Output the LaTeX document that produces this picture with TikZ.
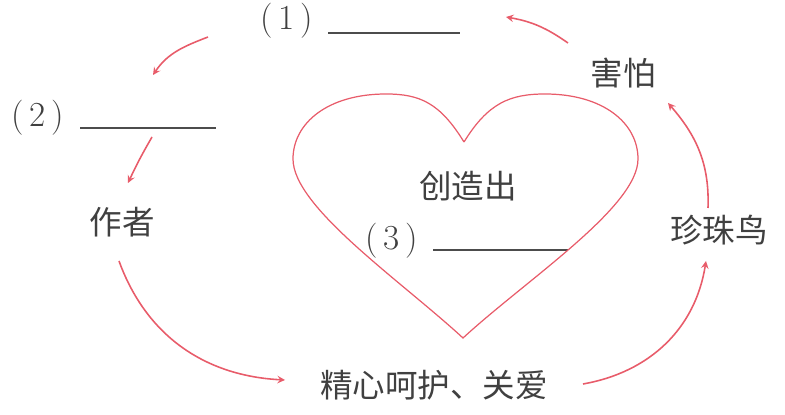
\documentclass[tikz,border=0pt]{standalone}
\usepackage{fontspec}
\usepackage{tikz}
\newfontfamily\cjk{Noto Sans CJK SC}[Scale=1.0]
\definecolor{heartred}{RGB}{232,92,106}
\tikzstyle{word} = [inner sep=0pt, font=\cjk\fontsize{18.5}{22}\selectfont, text=black!75]
\tikzstyle{num} = [inner sep=0pt, font=\fontsize{20}{24}\selectfont, text=black!75]
\tikzstyle{blank} = [black!70, line width=0.7pt]
\tikzstyle{arrow} = [heartred, line width=0.9pt, ->, >=stealth]

\begin{document}
\begin{tikzpicture}[x=0.02cm, y=0.02cm]
\useasboundingbox (0,0) rectangle (785,415);

% words
\node (q1) [num] at (287,394) {(\,1\,)};
\node (q2) [num] at (38,297) {(\,2\,)};
\node (q3) [num] at (392,174) {(\,3\,)};
\node (author) [word] at (122,193) {作者};
\node (care) [word] at (434,30) {精心呵护、关爱};
\node (bird) [word] at (719,185) {珍珠鸟};
\node (fear) [word] at (623,342) {害怕};
\node (create) [word] at (468,229) {创造出};

% blanks
\draw [blank] (328,382) -- (460,382);
\draw [blank] (80,287) -- (216,287);
\draw [blank] (433,165) -- (568,165);

% heart
\draw [heartred, line width=0.7pt] (464,273)
  .. controls (440,312) and (420,321) .. (386,321)
  .. controls (328,321) and (293,292) .. (293,256)
  .. controls (293,208) and (400,135) .. (463,77)
  .. controls (526,135) and (638,208) .. (638,256)
  .. controls (638,292) and (603,321) .. (545,321)
  .. controls (510,321) and (488,312) .. (464,273);

% arrow ends
\coordinate (fear-out) at (568,372);
\coordinate (q1-in) at (506,398);
\coordinate (q1-out) at (208,378);
\coordinate (q2-in) at (153,340);
\coordinate (q2-out) at (152,278);
\coordinate (author-in) at (128,232);
\coordinate (author-out) at (119,154);
\coordinate (care-in) at (285,35);
\coordinate (care-out) at (583,31);
\coordinate (bird-in) at (706,154);
\coordinate (bird-out) at (708,207);
\coordinate (fear-in) at (668,312);

\draw [arrow] (fear-out) to[out=145, in=-10] (q1-in);
\draw [arrow] (q1-out) to[out=201, in=56] (q2-in);
\draw [arrow] (q2-out) to[out=240, in=65] (author-in);
\draw [arrow] (author-out) to[out=-70, in=177] (care-in);
\draw [arrow] (care-out) to[out=10, in=-99] (bird-in);
\draw [arrow] (bird-out) to[out=88, in=-49] (fear-in);

\end{tikzpicture}
\end{document}
